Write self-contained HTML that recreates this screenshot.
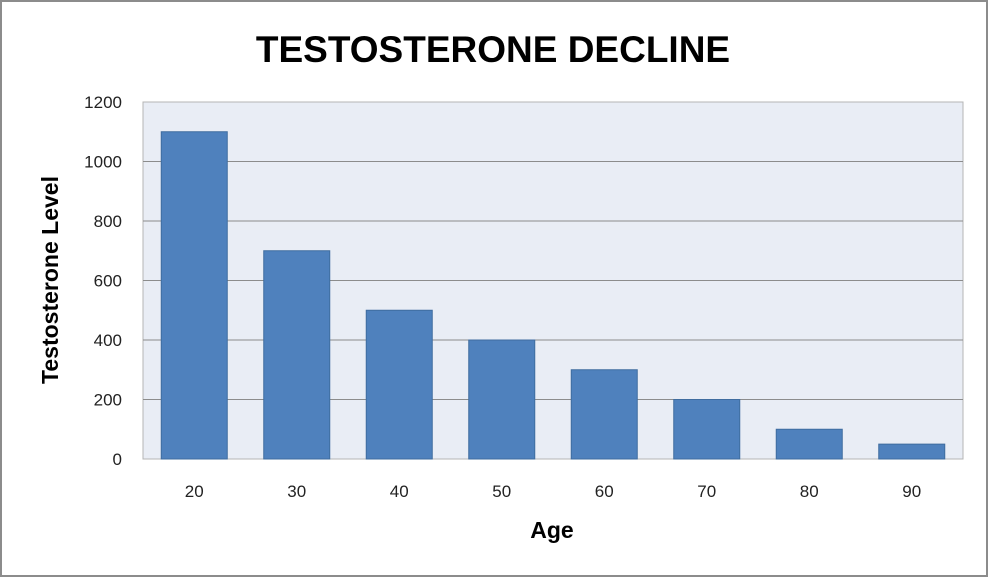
<!DOCTYPE html>
<html><head><meta charset="utf-8"><style>
body{margin:0;background:#fff;}
svg{display:block;font-family:"Liberation Sans",sans-serif;}
</style></head><body>
<svg id="chart" width="988" height="577">
<rect x="1" y="1" width="986" height="575" fill="#fff" stroke="#8c8c8c" stroke-width="2"/>
<text x="493" y="62" text-anchor="middle" font-size="37" font-weight="bold" fill="#000">TESTOSTERONE DECLINE</text>
<rect x="143" y="102" width="820" height="357" fill="#e9edf5" stroke="#b5b5b5"/>
<g id="grid"></g><g id="bars"></g><g id="yticks"></g><g id="xticks"></g>
<text x="552" y="538" text-anchor="middle" font-size="23" font-weight="bold">Age</text>
<text transform="translate(58,280) rotate(-90)" text-anchor="middle" font-size="23" font-weight="bold">Testosterone Level</text>
</svg>
<script>
const categories=["20","30","40","50","60","70","80","90"];
const values=[1100,700,500,400,300,200,100,50];
const yTicks=[0,200,400,600,800,1000,1200];
const NS="http://www.w3.org/2000/svg";
const x0=143,x1=963,yTop=102,yBot=459,yMax=1200;
const y=v=>yBot-(v/yMax)*(yBot-yTop);
const band=(x1-x0)/categories.length;
const bw=66;
function mk(t,a,p){const e=document.createElementNS(NS,t);for(const k in a)e.setAttribute(k,a[k]);document.getElementById(p).appendChild(e);return e;}
yTicks.forEach(t=>{
  if(t>0&&t<yMax){const l=mk('line',{x1:x0,x2:x1,y1:y(t),y2:y(t),stroke:'#8c8c8c','stroke-width':1},'grid');
  
  }
  const tx=mk('text',{x:122,y:y(t)+6,'text-anchor':'end','font-size':17,fill:'#222'},'yticks');
  tx.textContent=t;
  
  
});
categories.forEach((c,i)=>{
  const cx=x0+band*(i+0.5);
  const r=mk('rect',{x:cx-bw/2,y:y(values[i]),width:bw,height:yBot-y(values[i]),fill:'#4f81bd',stroke:'#3f6c9f','stroke-width':1},'bars');
  
  
  const tx=mk('text',{x:cx,y:497,'text-anchor':'middle','font-size':17,fill:'#222'},'xticks');
  tx.textContent=c;
  
  
});
</script>
</body></html>
